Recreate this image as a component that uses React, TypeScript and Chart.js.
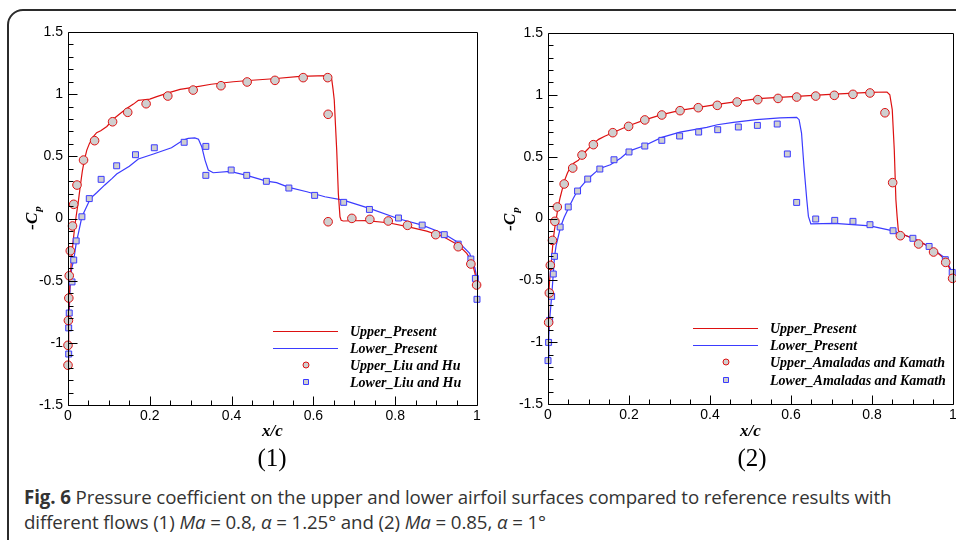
import React, { useEffect, useRef } from "react";
import { Chart, registerables } from "chart.js";

Chart.register(...registerables);

// ---------- Data: chart (1) Ma = 0.8 ----------
const upper1X = [0.0, 0.0015, 0.003, 0.005, 0.008, 0.012, 0.016, 0.02, 0.025, 0.03, 0.035, 0.04, 0.046, 0.052, 0.06, 0.07, 0.08, 0.095, 0.111, 0.13, 0.146, 0.16, 0.172, 0.185, 0.2, 0.217, 0.245, 0.274, 0.306, 0.35, 0.404, 0.45, 0.502, 0.567, 0.61, 0.641, 0.645, 0.648, 0.651, 0.654, 0.657, 0.661, 0.665, 0.668, 0.673, 0.7, 0.729, 0.783, 0.83, 0.877, 0.918, 0.954, 0.975, 0.988, 0.995, 1.0];
const upper1Y = [-1.15, -0.85, -0.65, -0.5, -0.35, -0.2, -0.08, 0.02, 0.13, 0.26, 0.38, 0.47, 0.55, 0.6, 0.65, 0.69, 0.705, 0.74, 0.8, 0.85, 0.89, 0.92, 0.95, 0.955, 0.96, 0.98, 1.01, 1.039, 1.055, 1.08, 1.1, 1.112, 1.124, 1.143, 1.147, 1.149, 1.114, 1.04, 0.953, 0.75, 0.551, 0.2, 0.014, -0.015, -0.02, -0.018, -0.017, -0.034, -0.066, -0.101, -0.147, -0.213, -0.28, -0.35, -0.441, -0.52];

const lower1X = [0.0, 0.0005, 0.0017, 0.003, 0.0056, 0.009, 0.014, 0.02, 0.026, 0.034, 0.042, 0.055, 0.07, 0.09, 0.108, 0.119, 0.13, 0.15, 0.172, 0.209, 0.253, 0.282, 0.294, 0.31, 0.319, 0.327, 0.335, 0.343, 0.355, 0.396, 0.437, 0.485, 0.51, 0.54, 0.584, 0.628, 0.673, 0.737, 0.808, 0.866, 0.918, 0.958, 0.982, 0.995, 1.0];
const lower1Y = [-1.15, -1.0, -0.87, -0.74, -0.52, -0.4, -0.334, -0.2, -0.11, 0.014, 0.07, 0.162, 0.207, 0.27, 0.323, 0.358, 0.38, 0.42, 0.479, 0.519, 0.569, 0.631, 0.645, 0.648, 0.637, 0.578, 0.47, 0.39, 0.368, 0.379, 0.347, 0.3, 0.288, 0.25, 0.215, 0.175, 0.148, 0.081, -0.002, -0.053, -0.12, -0.2, -0.28, -0.4, -0.49];

const upperLiuX = [0.0, 0.0, 0.001, 0.002, 0.003, 0.0056, 0.011, 0.014, 0.022, 0.038, 0.065, 0.109, 0.146, 0.191, 0.244, 0.306, 0.374, 0.438, 0.506, 0.575, 0.635, 0.636, 0.636, 0.694, 0.738, 0.783, 0.83, 0.899, 0.954, 0.985, 0.999];
const upperLiuY = [-1.18, -1.02, -0.82, -0.64, -0.46, -0.26, -0.06, 0.114, 0.269, 0.47, 0.626, 0.778, 0.854, 0.923, 0.985, 1.033, 1.068, 1.098, 1.111, 1.133, 1.133, 0.838, -0.026, 0.001, -0.007, -0.02, -0.055, -0.13, -0.227, -0.366, -0.535];

const lowerLiuX = [0.0017, 0.0017, 0.003, 0.0098, 0.014, 0.02, 0.034, 0.052, 0.081, 0.119, 0.165, 0.211, 0.284, 0.337, 0.337, 0.399, 0.437, 0.485, 0.54, 0.603, 0.674, 0.737, 0.808, 0.866, 0.92, 0.954, 0.985, 0.996, 1.0];
const lowerLiuY = [-1.09, -0.88, -0.76, -0.51, -0.334, -0.18, 0.014, 0.16, 0.315, 0.424, 0.513, 0.569, 0.613, 0.58, 0.347, 0.39, 0.347, 0.299, 0.245, 0.186, 0.13, 0.073, 0.004, -0.053, -0.13, -0.206, -0.326, -0.482, -0.65];

// ---------- Data: chart (2) Ma = 0.85 ----------
const upper2X = [0.0, 0.001, 0.002, 0.004, 0.0074, 0.01, 0.013, 0.016, 0.019, 0.025, 0.03, 0.035, 0.04, 0.048, 0.056, 0.064, 0.075, 0.084, 0.095, 0.109, 0.125, 0.14, 0.16, 0.199, 0.239, 0.281, 0.326, 0.418, 0.518, 0.614, 0.707, 0.795, 0.837, 0.844, 0.85, 0.855, 0.859, 0.862, 0.865, 0.87, 0.915, 0.952, 0.98, 0.993, 1.0];
const upper2Y = [-0.9, -0.76, -0.63, -0.5, -0.39, -0.28, -0.17, -0.09, -0.03, 0.093, 0.17, 0.233, 0.3, 0.368, 0.42, 0.449, 0.47, 0.51, 0.55, 0.597, 0.64, 0.665, 0.694, 0.75, 0.797, 0.84, 0.874, 0.923, 0.969, 0.987, 1.006, 1.02, 1.023, 1.001, 0.88, 0.556, 0.152, 0.017, -0.096, -0.12, -0.18, -0.25, -0.33, -0.414, -0.48];

const lower2X = [0.0, 0.002, 0.004, 0.009, 0.013, 0.016, 0.02, 0.031, 0.04, 0.052, 0.062, 0.072, 0.085, 0.098, 0.128, 0.154, 0.18, 0.2, 0.239, 0.281, 0.326, 0.392, 0.418, 0.458, 0.515, 0.573, 0.614, 0.62, 0.626, 0.632, 0.639, 0.643, 0.649, 0.708, 0.795, 0.852, 0.901, 0.941, 0.981, 1.0];
const lower2Y = [-1.12, -0.95, -0.82, -0.63, -0.45, -0.31, -0.22, -0.069, 0.01, 0.093, 0.16, 0.22, 0.27, 0.32, 0.405, 0.435, 0.49, 0.545, 0.59, 0.656, 0.699, 0.737, 0.758, 0.777, 0.799, 0.813, 0.818, 0.799, 0.691, 0.421, 0.152, 0.017, -0.044, -0.04, -0.06, -0.1, -0.16, -0.226, -0.32, -0.45];

const upperAmaX = [0.0016, 0.0033, 0.0057, 0.011, 0.017, 0.023, 0.04, 0.061, 0.084, 0.112, 0.16, 0.199, 0.239, 0.281, 0.326, 0.371, 0.418, 0.467, 0.518, 0.568, 0.614, 0.661, 0.707, 0.753, 0.795, 0.832, 0.851, 0.87, 0.915, 0.952, 0.982, 0.999];
const upperAmaY = [-0.84, -0.602, -0.379, -0.177, -0.023, 0.093, 0.279, 0.408, 0.513, 0.597, 0.694, 0.745, 0.797, 0.837, 0.872, 0.896, 0.915, 0.942, 0.961, 0.971, 0.982, 0.99, 0.996, 1.004, 1.015, 0.855, 0.29, -0.139, -0.206, -0.271, -0.355, -0.484];

const lowerAmaX = [0.0, 0.0015, 0.004, 0.009, 0.013, 0.016, 0.03, 0.05, 0.073, 0.098, 0.128, 0.163, 0.2, 0.239, 0.281, 0.325, 0.372, 0.419, 0.47, 0.517, 0.566, 0.591, 0.614, 0.661, 0.708, 0.753, 0.795, 0.852, 0.901, 0.941, 0.981, 0.998];
const lowerAmaY = [-1.149, -1.002, -0.824, -0.63, -0.449, -0.306, -0.069, 0.093, 0.222, 0.319, 0.4, 0.475, 0.538, 0.586, 0.632, 0.667, 0.699, 0.718, 0.74, 0.753, 0.764, 0.522, 0.13, -0.004, -0.015, -0.023, -0.05, -0.099, -0.16, -0.226, -0.333, -0.436];

// ---------- Labels ----------
const legend1Labels = ["Upper_Present", "Lower_Present", "Upper_Liu and Hu", "Lower_Liu and Hu"];
const legend2Labels = ["Upper_Present", "Lower_Present", "Upper_Amaladas and Kamath", "Lower_Amaladas and Kamath"];
const xTitle = "x/c";
const yTitleMain = "-C";
const yTitleSub = "p";
const xRange = [0, 1];
const yRange = [-1.5, 1.5];
const xTickStep = 0.2;
const yTickStep = 0.5;

const RED = "#dd1111";
const BLUE = "#3b3bff";
const MARK_FILL = "#cfcfcf";

const pts = (xs: number[], ys: number[]) => xs.map((x, i) => ({ x, y: ys[i] }));

const lineDs = (label: string, xs: number[], ys: number[], color: string) => ({
  label,
  data: pts(xs, ys),
  showLine: true,
  borderColor: color,
  backgroundColor: color,
  borderWidth: 1.2,
  pointRadius: 0,
  tension: 0,
  order: 2,
});

const markDs = (label: string, xs: number[], ys: number[], color: string, style: string) => ({
  label,
  data: pts(xs, ys),
  showLine: false,
  pointStyle: style,
  pointRadius: style === "rect" ? 4.2 : 4.3,
  borderColor: color,
  backgroundColor: MARK_FILL,
  pointBorderWidth: 1,
  borderWidth: 1,
  clip: false,
  order: 1,
});

const decorPlugin = {
  id: "decor",
  afterDraw(chart: any, _args: any, opts: any) {
    const { ctx, chartArea: a, scales } = chart;
    const xs = scales.x;
    const ys = scales.y;
    ctx.save();
    ctx.strokeStyle = "#000";
    ctx.lineWidth = 1;
    const L = Math.round(a.left) + 0.5;
    const T = Math.round(a.top) + 0.5;
    const R = Math.round(a.right) + 0.5;
    const B = Math.round(a.bottom) + 0.5;
    ctx.beginPath();
    ctx.rect(L, T, R - L, B - T);
    ctx.stroke();
    // inner ticks on y
    ctx.beginPath();
    for (let i = 0; i <= 30; i++) {
      const v = yRange[0] + i * 0.1;
      const py = Math.round(ys.getPixelForValue(v)) + 0.5;
      const len = i % 5 === 0 ? 9 : 5;
      ctx.moveTo(L, py);
      ctx.lineTo(L + len, py);
    }
    // inner ticks on x
    for (let i = 0; i <= 20; i++) {
      const v = xRange[0] + i * 0.05;
      const px = Math.round(xs.getPixelForValue(v)) + 0.5;
      const len = i % 4 === 0 ? 9 : 5;
      ctx.moveTo(px, B);
      ctx.lineTo(px, B - len);
    }
    ctx.stroke();

    // titles
    ctx.fillStyle = "#000";
    ctx.font = 'italic bold 17px "Liberation Serif"';
    ctx.textAlign = "center";
    ctx.textBaseline = "middle";
    ctx.fillText(xTitle, (a.left + a.right) / 2, opts.xTitleY);

    ctx.save();
    ctx.translate(opts.yTitleX, opts.yTitleY);
    ctx.rotate(-Math.PI / 2);
    ctx.font = 'italic bold 17px "Liberation Serif"';
    const w1 = ctx.measureText(yTitleMain).width;
    ctx.font = 'italic bold 11px "Liberation Serif"';
    const w2 = ctx.measureText(yTitleSub).width;
    const start = -(w1 + w2 + 1) / 2;
    ctx.textAlign = "left";
    ctx.font = 'italic bold 17px "Liberation Serif"';
    ctx.fillText(yTitleMain, start, 0);
    ctx.font = 'italic bold 11px "Liberation Serif"';
    ctx.fillText(yTitleSub, start + w1 + 1, 5);
    ctx.restore();

    // legend
    const lg = opts.legend;
    const dsets = chart.data.datasets;
    ctx.textAlign = "left";
    ctx.textBaseline = "middle";
    dsets.forEach((ds: any, i: number) => {
      const y = lg.rows[i];
      if (ds.showLine) {
        ctx.strokeStyle = ds.borderColor;
        ctx.lineWidth = 1.2;
        ctx.beginPath();
        ctx.moveTo(lg.lineX0, y + 0.5);
        ctx.lineTo(lg.lineX1, y + 0.5);
        ctx.stroke();
      } else {
        ctx.strokeStyle = ds.borderColor;
        ctx.fillStyle = MARK_FILL;
        ctx.lineWidth = 1;
        ctx.beginPath();
        if (ds.pointStyle === "rect") {
          ctx.rect(lg.markX - 2.5, y - 2.5, 5, 5);
        } else {
          ctx.arc(lg.markX, y, 3, 0, Math.PI * 2);
        }
        ctx.fill();
        ctx.stroke();
      }
      ctx.fillStyle = "#000";
      ctx.font = 'italic bold 14px "Liberation Serif"';
      ctx.fillText(ds.label, lg.textX, y + 1);
    });
    ctx.restore();
  },
};

type Layout = {
  width: number;
  height: number;
  yw: number;
  xh: number;
  top: number;
  right: number;
  xTitleY: number;
  yTitleX: number;
  yTitleY: number;
  legend: { lineX0: number; lineX1: number; markX: number; textX: number; rows: number[] };
};

function CpChart({ datasets, layout }: { datasets: any[]; layout: Layout }) {
  const ref = useRef<HTMLCanvasElement | null>(null);
  useEffect(() => {
    if (!ref.current) return;
    const tickFont = { family: '"Liberation Sans", Arial, sans-serif', size: 14 };
    const fmt = (v: any) => String(Math.round(Number(v) * 10) / 10);
    const chart = new Chart(ref.current, {
      type: "scatter",
      data: { datasets },
      plugins: [decorPlugin],
      options: {
        responsive: false,
        animation: false,
        devicePixelRatio: 1,
        layout: { padding: { top: layout.top, right: layout.right, left: 0, bottom: 0 } },
        plugins: {
          legend: { display: false },
          tooltip: { enabled: false },
          decor: { xTitleY: layout.xTitleY, yTitleX: layout.yTitleX, yTitleY: layout.yTitleY, legend: layout.legend },
        } as any,
        scales: {
          x: {
            type: "linear",
            min: xRange[0],
            max: xRange[1],
            grid: { display: false, drawTicks: false },
            border: { display: false },
            ticks: { stepSize: xTickStep, font: tickFont, color: "#000", padding: 3, maxRotation: 0, autoSkip: false, callback: fmt },
            afterFit: (s: any) => {
              s.height = layout.xh;
            },
          },
          y: {
            type: "linear",
            min: yRange[0],
            max: yRange[1],
            grid: { display: false, drawTicks: false },
            border: { display: false },
            ticks: { stepSize: yTickStep, font: tickFont, color: "#000", padding: 5, autoSkip: false, callback: fmt },
            afterFit: (s: any) => {
              s.width = layout.yw;
            },
          },
        },
      } as any,
    });
    return () => chart.destroy();
  }, []);
  return <canvas ref={ref} width={layout.width} height={layout.height} style={{ display: "block", width: layout.width, height: layout.height }} />;
}

const layout1: Layout = {
  width: 490,
  height: 445,
  yw: 68,
  xh: 40,
  top: 32,
  right: 13,
  xTitleY: 432,
  yTitleX: 33,
  yTitleY: 218,
  legend: { lineX0: 273, lineX1: 338, markX: 306, textX: 350, rows: [331, 348, 365, 382] },
};

const layout2: Layout = {
  width: 476,
  height: 445,
  yw: 58,
  xh: 41,
  top: 33,
  right: 13,
  xTitleY: 432,
  yTitleX: 21,
  yTitleY: 219,
  legend: { lineX0: 203, lineX1: 268, markX: 236, textX: 280, rows: [328, 345, 362, 380] },
};

export default function App() {
  const ds1 = [
    lineDs(legend1Labels[0], upper1X, upper1Y, RED),
    lineDs(legend1Labels[1], lower1X, lower1Y, BLUE),
    markDs(legend1Labels[2], upperLiuX, upperLiuY, RED, "circle"),
    markDs(legend1Labels[3], lowerLiuX, lowerLiuY, BLUE, "rect"),
  ];
  const ds2 = [
    lineDs(legend2Labels[0], upper2X, upper2Y, RED),
    lineDs(legend2Labels[1], lower2X, lower2Y, BLUE),
    markDs(legend2Labels[2], upperAmaX, upperAmaY, RED, "circle"),
    markDs(legend2Labels[3], lowerAmaX, lowerAmaY, BLUE, "rect"),
  ];
  return (
    <div style={{ position: "fixed", left: 0, top: 0, width: 956, height: 540, overflow: "hidden", background: "#fff" }}>
      <div
        style={{
          position: "absolute",
          left: 7,
          top: 9,
          width: 1000,
          height: 600,
          border: "2px solid #2b2b2b",
          borderRadius: 16,
        }}
      />
      <div style={{ position: "absolute", left: 0, top: 0 }}>
        <CpChart datasets={ds1} layout={layout1} />
      </div>
      <div style={{ position: "absolute", left: 490, top: 0 }}>
        <CpChart datasets={ds2} layout={layout2} />
      </div>
      <div style={{ position: "absolute", left: 0, width: 544, top: 444, textAlign: "center", fontFamily: '"Liberation Serif", serif', fontSize: 25, lineHeight: "28px", color: "#000" }}>
        (1)
      </div>
      <div style={{ position: "absolute", left: 552, width: 400, top: 444, textAlign: "center", fontFamily: '"Liberation Serif", serif', fontSize: 25, lineHeight: "28px", color: "#000" }}>
        (2)
      </div>
      <div
        style={{
          position: "absolute",
          left: 24,
          top: 484,
          width: 930,
          fontFamily: '"Open Sans", sans-serif',
          fontSize: 18.7,
          lineHeight: "25px",
          letterSpacing: -0.1,
          color: "#333",
          whiteSpace: "nowrap",
        }}
      >
        <b>Fig. 6</b> Pressure coefficient on the upper and lower airfoil surfaces compared to reference results with
        <br />
        different flows (1) <i>Ma</i> = 0.8, <i>α</i> = 1.25° and (2) <i>Ma</i> = 0.85, <i>α</i> = 1°
      </div>
    </div>
  );
}
